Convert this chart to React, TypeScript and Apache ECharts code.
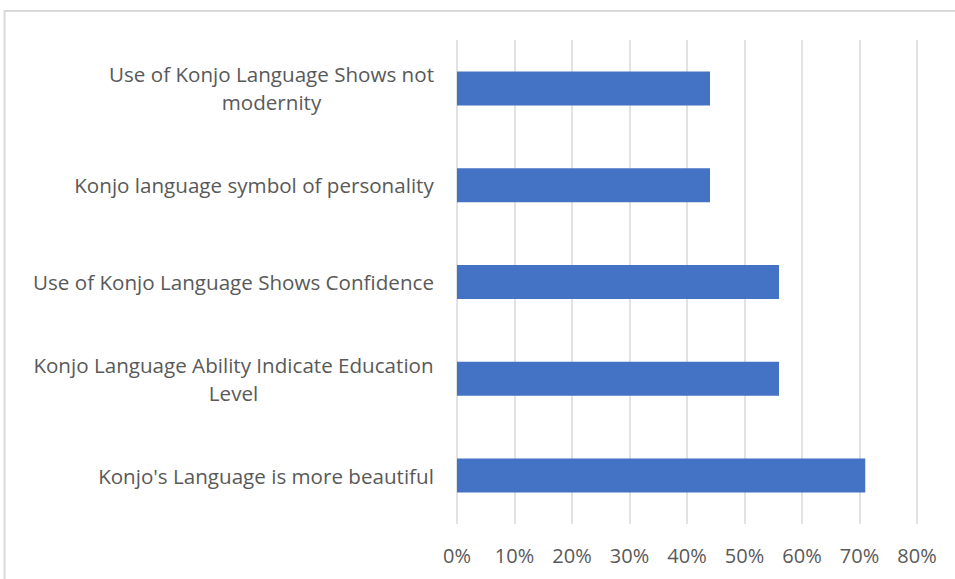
import React, { useEffect, useRef } from "react";
import * as echarts from "echarts";

const categories: string[] = [
  "Konjo's Language is more beautiful",
  "Konjo Language Ability Indicate Education\nLevel",
  "Use of Konjo Language Shows Confidence",
  "Konjo language symbol of personality",
  "Use of Konjo Language Shows not\nmodernity",
];
const values: number[] = [71, 56, 56, 44, 44];
const tickMax = 80;
const tickStep = 10;

const FONT = "Open Sans";
const FS_Y = 20.6;
const FS_X = 20;

export default function App() {
  const ref = useRef<HTMLDivElement>(null);
  useEffect(() => {
    if (!ref.current) return;
    const chart = echarts.init(ref.current, undefined, { renderer: "svg" });
    const cv = document.createElement("canvas");
    const ctx = cv.getContext("2d")!;
    ctx.font = `${FS_Y}px "${FONT}"`;
    const rich: Record<string, any> = {};
    categories.forEach((c, i) => {
      const lines = c.split("\n");
      const w = Math.max(...lines.map((l) => ctx.measureText(l).width));
      rich["r" + i] = {
        width: Math.ceil(w),
        align: "center",
        fontSize: FS_Y,
        fontFamily: FONT,
        color: "#595959",
        lineHeight: 28,
      };
    });
    chart.setOption({
      animation: false,
      graphic: [
        {
          type: "rect",
          shape: { x: 4.5, y: 11, width: 1000, height: 700 },
          style: { fill: "none", stroke: "#d9d9d9", lineWidth: 2 },
          silent: true,
        },
      ],
      grid: { left: 457, right: 38, top: 40, bottom: 55, containLabel: false },
      xAxis: {
        type: "value",
        min: 0,
        max: tickMax,
        interval: tickStep,
        axisLine: { show: false },
        axisTick: { show: false },
        splitLine: { show: true, lineStyle: { color: "#d9d9d9", width: 1.5 } },
        axisLabel: {
          formatter: (v: number) => v + "%",
          color: "#595959",
          fontSize: FS_X,
          fontFamily: FONT,
          margin: 21,
        },
      },
      yAxis: {
        type: "category",
        data: categories,
        axisLine: { show: false },
        axisTick: { show: false },
        axisLabel: {
          margin: 23,
          formatter: (v: string) => {
            const i = categories.indexOf(v);
            return v
              .split("\n")
              .map((l) => `{r${i}|${l}}`)
              .join("\n");
          },
          rich,
          lineHeight: 28,
          fontSize: FS_Y,
          fontFamily: FONT,
          color: "#595959",
        },
      },
      series: [
        {
          type: "bar",
          data: values,
          barWidth: 34,
          itemStyle: { color: "#4472C4" },
        },
      ],
    });
    return () => chart.dispose();
  }, []);
  return (
    <div
      ref={ref}
      style={{ position: "fixed", left: 0, top: 0, width: 955, height: 579, background: "#fff" }}
    />
  );
}
